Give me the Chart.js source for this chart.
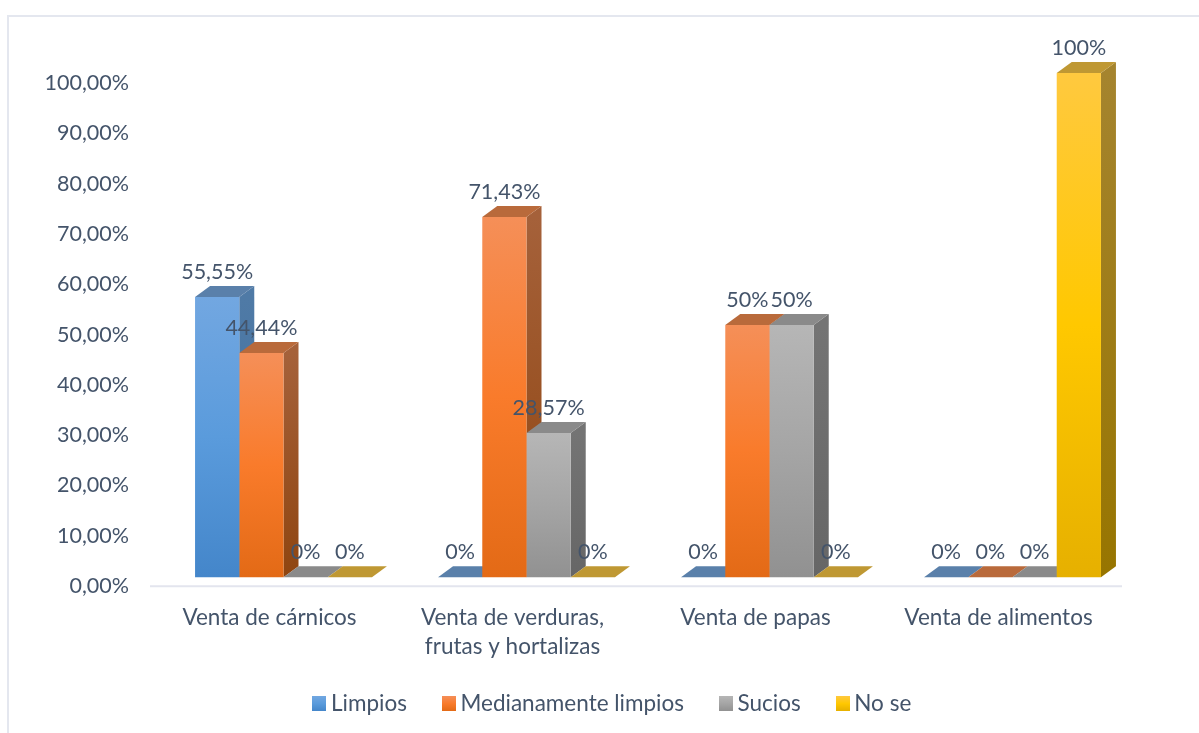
<!DOCTYPE html>
<html><head><meta charset="utf-8">
<style>html,body{margin:0;padding:0;background:#fff}canvas{display:block}</style>
<script src="https://cdn.jsdelivr.net/npm/chart.js@4/dist/chart.umd.min.js"></script>
</head><body><canvas id="c" width="1199" height="733"></canvas>
<script>
const categories = ['Venta de cárnicos', ['Venta de verduras,', 'frutas y hortalizas'], 'Venta de papas', 'Venta de alimentos'];
const limpios = [55.55, 0, 0, 0];
const medianamente = [44.44, 71.43, 50, 0];
const sucios = [0, 28.57, 50, 0];
const noSe = [0, 0, 0, 100];

const TEXT = '#44546A';
const FONT = 'Lato';
const DX = 15, DY = 11;
const faces = [
  {front:['#72a7e1','#5a9bdc','#4486ca'], top:'#5a80aa', side:['#4f7aa6','#3f6f9f']},
  {front:['#f58f58','#f97b2b','#e36a16'], top:'#b96a3b', side:['#a5613a','#8f4510']},
  {front:['#b6b6b6','#a5a5a5','#919191'], top:'#8a8a8a', side:['#747474','#666666']},
  {front:['#ffc93f','#ffc800','#e6b000'], top:'#bf9833', side:['#a5842e','#977500']}
];
function grad(ctx, y0, y1, stops){
  const g = ctx.createLinearGradient(0,y0,0,y1);
  stops.forEach((s,i)=>g.addColorStop(i/(stops.length-1),s));
  return g;
}
function swatch(stops){
  const cv=document.createElement('canvas');cv.width=14;cv.height=15;
  const x=cv.getContext('2d');x.fillStyle=grad(x,0,15,stops);x.fillRect(0,0,14,15);
  return cv;
}
function frontColor(i){
  return c=>{
    if(!c.parsed) return faces[i].front[1];
    const sc=c.chart.scales.yBars;
    return grad(c.chart.ctx, sc.getPixelForValue(c.parsed.y), sc.getPixelForValue(0), faces[i].front);
  };
}
const frame3d = {
  id:'frame3d',
  beforeDraw(chart){
    const {ctx,chartArea:a}=chart;
    Object.values(chart.scales).forEach(s=>{s._computeLabelArea=()=>null;});
    ctx.save();
    ctx.fillStyle='#fff';ctx.fillRect(0,0,1199,733);
    ctx.strokeStyle='#e4e7ef';ctx.lineWidth=2;
    ctx.beginPath();ctx.moveTo(8,733);ctx.lineTo(8,16);ctx.lineTo(1199,16);ctx.stroke();
    ctx.strokeStyle='#e3e5ee';ctx.lineWidth=2;
    ctx.beginPath();ctx.moveTo(a.left-12,a.bottom);ctx.lineTo(a.right-12,a.bottom);ctx.stroke();
    ctx.restore();
  },
  beforeDatasetsDraw(chart){
    const {ctx}=chart;
    ctx.save();
    const n=chart.data.labels.length;
    for(let k=0;k<n;k++){
      chart.data.datasets.forEach((ds,i)=>{
        const el=chart.getDatasetMeta(i).data[k];
        const l=el.x-el.width/2,r=el.x+el.width/2,t=el.y,b=el.base,f=faces[i];
        if(b-t>0.5){
          ctx.fillStyle=grad(ctx,t,b,f.side);
          ctx.beginPath();ctx.moveTo(r,t);ctx.lineTo(r+DX,t-DY);ctx.lineTo(r+DX,b-DY);ctx.lineTo(r,b);ctx.closePath();ctx.fill();
        }
        ctx.fillStyle=f.top;
        ctx.beginPath();ctx.moveTo(l,t);ctx.lineTo(l+DX,t-DY);ctx.lineTo(r+DX,t-DY);ctx.lineTo(r,t);ctx.closePath();ctx.fill();
      });
    }
    ctx.restore();
  },
  afterDatasetsDraw(chart){
    const {ctx}=chart;
    ctx.save();
    ctx.fillStyle=TEXT;ctx.font='21.5px '+FONT;ctx.textAlign='center';ctx.textBaseline='middle';
    chart.data.datasets.forEach((ds,i)=>{
      chart.getDatasetMeta(i).data.forEach((el,k)=>{
        ctx.fillText(String(ds.data[k]).replace('.',',')+'%',el.x,el.y-25);
      });
    });
    ctx.restore();
  }
};
const names=['Limpios','Medianamente limpios','Sucios','No se'];
const series=[limpios,medianamente,sucios,noSe];
new Chart(document.getElementById('c'),{
  type:'bar',
  plugins:[frame3d],
  data:{labels:categories,datasets:series.map((d,i)=>({
    label:names[i],data:d,yAxisID:'yBars',backgroundColor:frontColor(i),borderWidth:0,
    categoryPercentage:0.728,barPercentage:1
  }))},
  options:{
    responsive:false,animation:false,
    layout:{padding:{left:96,right:65,top:60,bottom:8}},
    scales:{
      x:{grid:{display:false},border:{display:false},
        afterFit(s){s.height-=19;},
        ticks:{color:TEXT,font:{family:FONT,size:22.5,lineHeight:1.29},labelOffset:-14,maxRotation:0,minRotation:0,autoSkip:false,padding:9}},
      y:{position:'left',min:0,max:104.57,grid:{display:false},border:{display:false},
        afterFit(s){s.width=66;},
        ticks:{stepSize:10,includeBounds:false,padding:25,color:TEXT,font:{family:FONT,size:21.5},
          callback:v=>v.toFixed(2).replace('.',',')+'%'}},
      yBars:{display:false,position:'left',min:-1.786,max:102.58}
    },
    plugins:{
      tooltip:{enabled:false},
      legend:{position:'bottom',labels:{color:TEXT,font:{family:FONT,size:22.5},usePointStyle:true,pointStyleWidth:1,padding:41.3,
        generateLabels(chart){
          return chart.data.datasets.map((d,i)=>({text:d.label,fontColor:TEXT,pointStyle:swatch(faces[i].front),datasetIndex:i,lineWidth:0,strokeStyle:'transparent',fillStyle:faces[i].front[1]}));
        }}}
    }
  }
});
</script></body></html>
